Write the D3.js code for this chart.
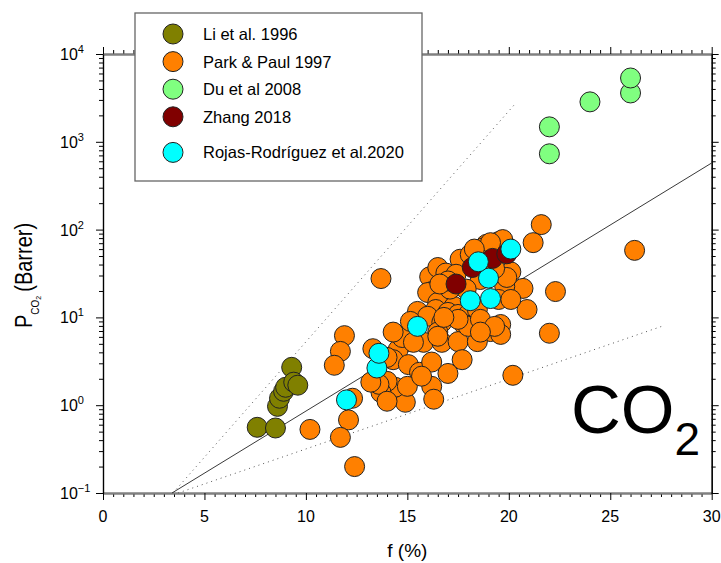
<!DOCTYPE html>
<html>
<head>
<meta charset="utf-8">
<script src="https://cdn.jsdelivr.net/npm/d3@7"></script>
<style>
body { margin: 0; background: #fff; }
svg { font-family: "Liberation Sans", Arial, sans-serif; }
</style>
</head>
<body>
<svg id="chart" width="721" height="563"></svg>
<script>
// DATA
// Li et al. 1996
var liF = [7.6, 8.5, 8.6, 8.7, 8.9, 9.0, 9.3, 9.4, 9.6];
var liP = [0.56, 0.55, 0.97, 1.2, 1.44, 1.6, 2.7, 1.83, 1.69];

// Park & Paul 1997
var parkF = [13.7, 11.9, 11.7, 11.4, 10.2, 12.1, 11.7, 12.4, 12.3, 13.3,
             21.6, 21.2, 26.2, 20.7, 22.3, 20.9, 22.0, 20.2, 19.6, 19.1,
             20.1, 18.9, 19.5, 19.9, 19.7, 18.75, 19.8, 19.9, 16.1, 16.5,
             16.9, 16.2, 16.5, 16.0, 16.5, 17.3, 16.4, 15.5, 16.0, 17.0,
             17.5, 18.0, 18.45, 17.8, 16.7, 16.5, 15.8, 15.05, 14.65, 14.55,
             14.3, 14.0, 15.05, 15.6, 16.2, 16.7, 17.5, 18.45, 19.6, 17.7,
             17.0, 16.2, 16.3, 14.9, 14.4, 14.0, 13.7, 13.6, 15.0, 14.0,
             13.2, 18.0, 14.75, 15.3, 16.5, 15.7, 17.5, 16.8, 18.6, 19.3,
             14.3, 18.6, 19.1, 17.6, 18.1, 18.6, 17.9, 17.1, 17.4, 19.5,
             20.1, 15.15, 18.3, 17.0, 16.6, 19.3];
var parkP = [27.7, 6.2, 4.1, 2.85, 0.53, 0.68, 0.43, 0.20, 1.2, 4.4,
             114, 71, 58, 21.4, 19.7, 12.3, 6.6, 2.19, 8.3, 6.9,
             33, 68, 73, 64, 77, 62, 22.5, 28.5, 29, 37,
             32, 19.7, 16, 19.2, 14.8, 13.3, 12.3, 11.7, 10.3, 11.4,
             10.8, 10.8, 12.3, 8.3, 8.8, 6.8, 5.2, 5.3, 6.1, 4.3,
             3.3, 3.5, 2.9, 2.37, 3.1, 5.2, 5.3, 5.3, 6.4, 3.3,
             2.3, 1.64, 1.17, 1.08, 1.6, 1.87, 1.4, 1.73, 1.64, 1.11,
             1.83, 7.9, 5.9, 5.2, 6.1, 2.14, 9.5, 10, 9.5, 7.9,
             6.8, 6.8, 71, 46, 52, 27, 21, 21, 31, 16,
             16, 9.0, 60, 26, 24, 36];

// Du et al 2008
var duF = [22.0, 22.0, 24.0, 26.0, 26.0];
var duP = [730, 1480, 2850, 3600, 5330];

// Zhang 2018
var zhangF = [17.4, 18.2, 19.2, 19.9];
var zhangP = [24, 37, 47, 53];

// Rojas-Rodriguez et al. 2020
var rojasF = [12.0, 13.5, 13.6, 15.5, 18.1, 19.1, 19.0, 18.5, 20.1];
var rojasP = [1.15, 2.65, 3.9, 7.9, 15.5, 16.4, 28, 43, 60];

// Guide lines (start / end)
var fitF = [3.4, 30], fitP = [0.1, 574];
var upperF = [3.45, 20.35], upperP = [0.1, 2770];
var lowerF = [3.7, 27.6], lowerP = [0.1, 8.0];

var seriesNames = ["Li et al. 1996", "Park & Paul 1997", "Du et al 2008", "Zhang 2018", "Rojas-Rodríguez et al.2020"];
var seriesColors = ["#808000", "#ff8000", "#80ff80", "#800000", "#00ffff"];
var xTicks = [0, 5, 10, 15, 20, 25, 30];
var yExps = [-1, 0, 1, 2, 3, 4];

// SCALES
var plotLeft = 103, plotRight = 711.7, plotTop = 54, plotBottom = 493;
var x = d3.scaleLinear().domain([0, 30]).range([plotLeft, plotRight]);
var y = d3.scaleLog().domain([0.1, 1e4]).range([plotBottom, plotTop]);

var svg = d3.select("#chart");

// minor tick values
var xMinor = d3.range(0, 30.01, 0.5).filter(function(v) { return v % 5 !== 0; });
var yMajor = yExps.map(function(e) { return Math.pow(10, e); });
var yMinor = [];
for (var e = -1; e < 4; e++) {
    for (var k = 2; k <= 9; k++) yMinor.push(k * Math.pow(10, e));
}

// AXES
function styleAxis(g, stroke, width) {
    g.select(".domain").attr("stroke", stroke).attr("stroke-width", width);
    g.selectAll(".tick line").attr("stroke", "#000").attr("stroke-width", 1);
    g.selectAll(".tick text").remove();
}

function addAxis(axisFn, scale, major, minor, transform, stroke, width) {
    var gMin = svg.append("g").attr("transform", transform)
        .call(axisFn(scale).tickValues(minor).tickSizeInner(4).tickSizeOuter(0));
    styleAxis(gMin, stroke, width);
    var gMaj = svg.append("g").attr("transform", transform)
        .call(axisFn(scale).tickValues(major).tickSizeInner(7).tickSizeOuter(0));
    styleAxis(gMaj, stroke, width);
}

addAxis(d3.axisBottom, x, xTicks, xMinor, "translate(0," + plotBottom + ")", "#808080", 2);
addAxis(d3.axisTop, x, xTicks, xMinor, "translate(0," + plotTop + ")", "#808080", 2);
addAxis(d3.axisLeft, y, yMajor, yMinor, "translate(" + plotLeft + ",0)", "#000", 1.2);
addAxis(d3.axisRight, y, yMajor, yMinor, "translate(" + plotRight + ",0)", "#000", 1.2);

// x tick labels
svg.selectAll(".xlab").data(xTicks).enter().append("text")
    .attr("class", "xlab")
    .attr("x", function(d) { return x(d); })
    .attr("y", 522)
    .attr("text-anchor", "middle")
    .style("font-size", "16px")
    .text(function(d) { return d; });

// y tick labels (10^n), left aligned like the original
var ylab = svg.selectAll(".ylab").data(yExps).enter().append("text")
    .attr("class", "ylab")
    .attr("x", 60)
    .attr("y", function(d) { return y(Math.pow(10, d)) + 6; })
    .style("font-size", "16px");
ylab.append("tspan").text("10");
ylab.append("tspan").attr("dy", -7).style("font-size", "11px")
    .text(function(d) { return d < 0 ? "\u2212" + (-d) : d; });

// axis titles
svg.append("text")
    .attr("x", (plotLeft + plotRight) / 2)
    .attr("y", 557)
    .attr("text-anchor", "middle")
    .style("font-size", "19px")
    .text("f (%)");

var yt = svg.append("text")
    .attr("transform", "translate(32,328) scale(1.15,1) rotate(-90)")
    .style("font-size", "20px");
yt.append("tspan").text("P");
yt.append("tspan").attr("dy", 6).style("font-size", "10px").text("CO");
yt.append("tspan").attr("dy", 1.5).style("font-size", "7px").text("2");
yt.append("tspan").attr("dy", -7.5).attr("dx", 4).text("(Barrer)");

// GUIDE LINES
var line = d3.line()
    .x(function(d) { return x(d[0]); })
    .y(function(d) { return y(d[1]); });

svg.append("path")
    .datum(d3.zip(fitF, fitP))
    .attr("d", line)
    .attr("fill", "none")
    .attr("stroke", "#222")
    .attr("stroke-width", 0.9);

[[upperF, upperP], [lowerF, lowerP]].forEach(function(l) {
    svg.append("path")
        .datum(d3.zip(l[0], l[1]))
        .attr("d", line)
        .attr("fill", "none")
        .attr("stroke", "#555")
        .attr("stroke-width", 1)
        .attr("stroke-dasharray", "1,4");
});

// POINTS
var series = [
    { f: liF, p: liP },
    { f: parkF, p: parkP },
    { f: duF, p: duP },
    { f: zhangF, p: zhangP },
    { f: rojasF, p: rojasP }
];

series.forEach(function(s, i) {
    svg.append("g").selectAll("circle")
        .data(d3.zip(s.f, s.p))
        .enter().append("circle")
        .attr("cx", function(d) { return x(d[0]); })
        .attr("cy", function(d) { return y(d[1]); })
        .attr("r", 10)
        .attr("fill", seriesColors[i])
        .attr("stroke", "#222")
        .attr("stroke-width", 1);
});

// CO2 label
var co2 = svg.append("text")
    .attr("x", 571)
    .attr("y", 433)
    .style("font-size", "69px");
co2.append("tspan").text("CO");
co2.append("tspan").attr("dy", 22).style("font-size", "46px").text("2");

// LEGEND
var legend = svg.append("g");
legend.append("rect")
    .attr("x", 135).attr("y", 13)
    .attr("width", 287).attr("height", 168)
    .attr("fill", "#fff")
    .attr("stroke", "#666")
    .attr("stroke-width", 1.3);

var items = legend.selectAll(".item").data(seriesNames).enter().append("g")
    .attr("class", "item")
    .attr("transform", function(d, i) { return "translate(173," + (34 + i * 27.6 + (i === 4 ? 8 : 0)) + ")"; });
items.append("circle")
    .attr("r", 10)
    .attr("fill", function(d, i) { return seriesColors[i]; })
    .attr("stroke", "#222")
    .attr("stroke-width", 1);
items.append("text")
    .attr("x", 30)
    .attr("y", 6)
    .style("font-size", "16.5px")
    .text(function(d) { return d; });
</script>
</body>
</html>
